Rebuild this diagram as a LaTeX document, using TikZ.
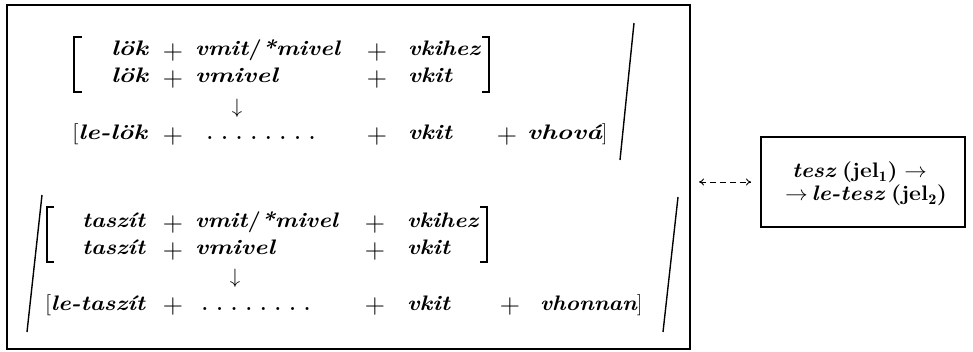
\documentclass[tikz,border=0pt]{standalone}
\usepackage{fontspec}
\usepackage{graphicx}
\usetikzlibrary{arrows.meta}
\newcommand{\fsz}{\fontsize{21}{25}\selectfont}
\newcommand{\psz}{\fontsize{28}{32}\selectfont}
\newcommand{\W}[2]{\resizebox{#1pt}{\height}{#2}}
\newcommand{\ndots}{\hbox to 131pt{\leaders\hbox to 14.6pt{\hss\bfseries.\hss}\hfill}}
\begin{document}
\begin{tikzpicture}[x=1pt,y=-1pt,
  every node/.style={inner sep=0pt, outer sep=0pt},
  wd/.style={anchor=base west, font=\fsz\bfseries\itshape},
  pl/.style={anchor=center, font=\psz},
  dn/.style={anchor=center, font=\fsz},
  dt/.style={anchor=base west, font=\fsz},
  brk/.style={line width=1.1pt},
  slash/.style={line width=1.4pt},
  frame/.style={draw, line width=2.5pt},
  rframe/.style={draw, line width=2pt, align=center, font=\fsz},
  link/.style={dashed, dash pattern=on 6pt off 4pt, line width=0.9pt, {To[length=5pt,width=7pt]}-{To[length=5pt,width=7pt]}}
]
\useasboundingbox (0,0) rectangle (973,352);
% outer frame
\node[frame, minimum width=683pt, minimum height=344pt] (outer) at (348.5,177) {};
% ---- top group
\draw[brk] (82,37) -- (74,37) -- (74,92) -- (82,92);
\draw[brk] (482,37) -- (489,37) -- (489,92) -- (482,92);
\node[wd] (a1) at (111,56) {\W{37}{lök}};
\node[pl] (a1p) at (173,52.5) {+};
\node[wd] (a1b) at (195,56) {\W{145}{vmit{\normalfont\bfseries/}*mivel}};
\node[pl] (a1q) at (377,52.5) {+};
\node[wd] (a1c) at (408,56) {\W{72}{vkihez}};
\node[wd] (a2) at (111,83) {\W{37}{lök}};
\node[pl] (a2p) at (173,79.5) {+};
\node[wd] (a2b) at (195,83) {\W{83}{vmivel}};
\node[pl] (a2q) at (377,79.5) {+};
\node[wd] (a2c) at (408,83) {\W{44}{vkit}};
\node[dn] (aarr) at (237,108) {$\downarrow$};
\node[wd] (a3) at (72,140) {\W{75}{{\normalfont[}le-lök}};
\node[pl] (a3p) at (173,136.5) {+};
\node[dt] (a3d) at (202.7,140) {\ndots};
\node[pl] (a3q) at (377,136.5) {+};
\node[wd] (a3c) at (408,140) {\W{44}{vkit}};
\node[pl] (a3r) at (507,136.5) {+};
\node[wd] (a3e) at (527,140) {\W{75}{vhová}{\normalfont]}};
\draw[slash] (634,23) -- (620,160);
% ---- bottom group
\draw[brk] (54,207) -- (47,207) -- (47,262) -- (54,262);
\draw[brk] (480,207) -- (487,207) -- (487,262) -- (480,262);
\node[wd] (b1) at (82,228) {\W{63}{taszít}};
\node[pl] (b1p) at (173,224.5) {+};
\node[wd] (b1b) at (195,228) {\W{143}{vmit{\normalfont\bfseries/}*mivel}};
\node[pl] (b1q) at (375,224.5) {+};
\node[wd] (b1c) at (407,228) {\W{71}{vkihez}};
\node[wd] (b2) at (82,255) {\W{63}{taszít}};
\node[pl] (b2p) at (173,251.5) {+};
\node[wd] (b2b) at (195,255) {\W{80}{vmivel}};
\node[pl] (b2q) at (375,251.5) {+};
\node[wd] (b2c) at (407,255) {\W{43}{vkit}};
\node[dn] (barr) at (235,278) {$\downarrow$};
\node[wd] (b3) at (45,310) {\W{100}{{\normalfont[}le-taszít}};
\node[pl] (b3p) at (173,306.5) {+};
\node[dt] (b3d) at (197.7,310) {\ndots};
\node[pl] (b3q) at (375,306.5) {+};
\node[wd] (b3c) at (407,310) {\W{43}{vkit}};
\node[pl] (b3r) at (510,306.5) {+};
\node[wd] (b3e) at (540,310) {\W{97}{vhonnan}{\normalfont]}};
\draw[slash] (42,195) -- (27,332);
\draw[slash] (678,197) -- (663,332);
% ---- right box
\node[rframe, minimum width=204pt, minimum height=90pt] (rb) at (863,182) {};
\node[anchor=base west, font=\fsz] (rt1) at (792,178)
  {\W{135}{{\bfseries\itshape tesz} {\bfseries(jel$_{\mathbf 1}$)} $\rightarrow$}};
\node[anchor=base west, font=\fsz] (rt2) at (785,201)
  {\W{162}{$\rightarrow$\,{\bfseries\itshape le-tesz} {\bfseries(jel$_{\mathbf 2}$)}}};
\draw[link, shorten <=9pt, shorten >=10pt] (outer.east |- rb.west) -- (rb.west);
\end{tikzpicture}
\end{document}
